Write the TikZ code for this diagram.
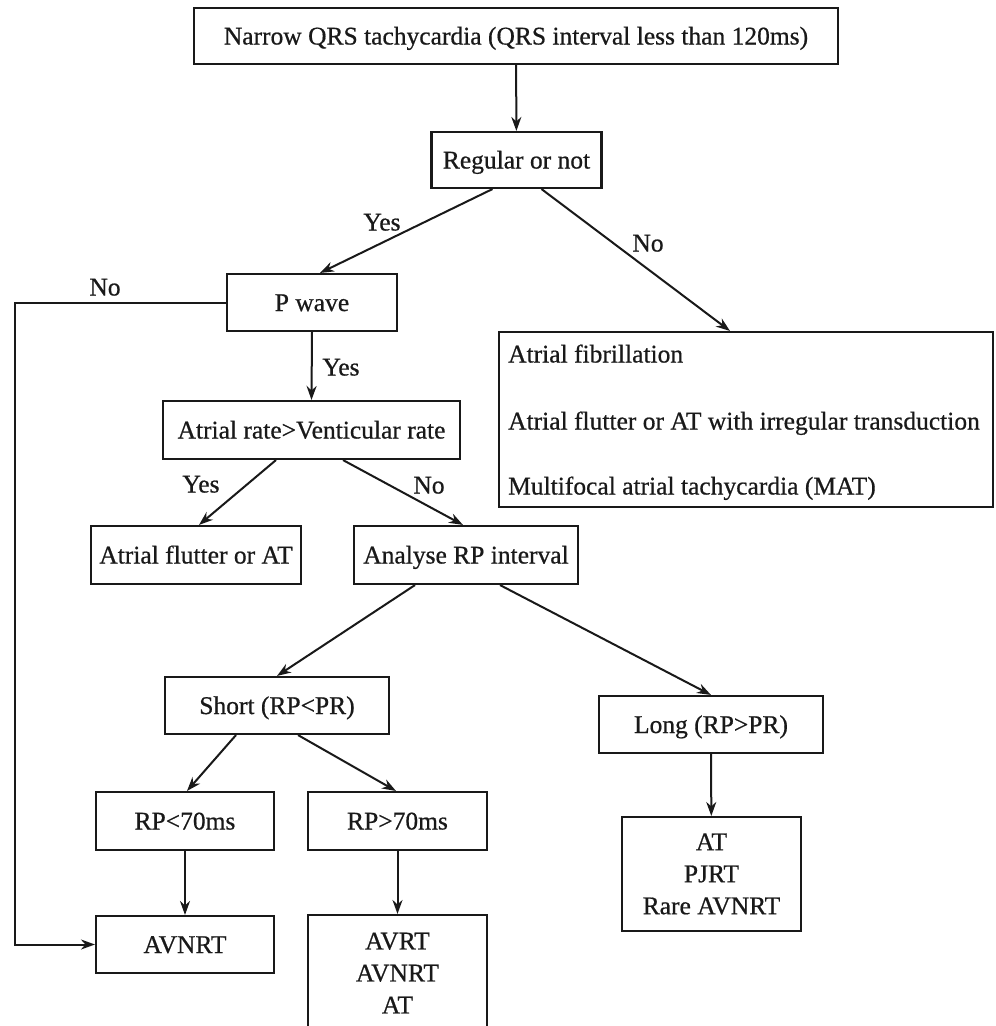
\documentclass[tikz,border=0pt]{standalone}
\usepackage{fontspec}
\setmainfont{Liberation Serif}[RawFeature={embolden=0.6}]
\usetikzlibrary{arrows.meta,calc}
\definecolor{ink}{RGB}{25,25,25}
\begin{document}
\begin{tikzpicture}[x=1pt,y=-1pt,
  box/.style={draw=ink, line width=2.1pt, rectangle, inner sep=0pt, font=\fontsize{25.5}{32}\selectfont, text=ink},
  one/.style={text height=17pt, text depth=0pt},
  arr/.style={draw=ink, line width=2pt, -{Stealth[length=14pt,width=10pt,inset=4.5pt]}},
  lbl/.style={font=\fontsize{25.5}{32}\selectfont, text=ink, inner sep=0pt, text height=17pt, text depth=0pt}]
\path[use as bounding box, clip] (0,0) rectangle (996,1026);
\fill[white] (0,0) rectangle (996,1026);

\node[box,one,minimum width=644pt,minimum height=56pt] (top) at (516,36) {Narrow QRS tachycardia (QRS interval less than 120ms)};
\node[box,one,minimum width=170pt,minimum height=56pt] (reg) at (516.5,160) {Regular or not};
\node[box,one,minimum width=170pt,minimum height=57pt] (pw) at (312,302.5) {P wave};
\node[box,one,minimum width=297pt,minimum height=58pt] (ar) at (311.5,430) {Atrial rate>Venticular rate};
\node[box,minimum width=494pt,minimum height=175pt] (afib) at (746,419.5) {};
\node[lbl,anchor=west] (af1) at (508,354) {Atrial fibrillation};
\node[lbl,anchor=west] (af2) at (508,421) {Atrial flutter or AT with irregular transduction};
\node[lbl,anchor=west] (af3) at (508,486) {Multifocal atrial tachycardia (MAT)};
\node[box,one,minimum width=210pt,minimum height=58pt] (afl) at (196,555) {Atrial flutter or AT};
\node[box,one,minimum width=224pt,minimum height=58pt] (arp) at (466,555) {Analyse RP interval};
\node[box,one,minimum width=224pt,minimum height=57pt] (short) at (277,705.5) {Short (RP<PR)};
\node[box,one,minimum width=224pt,minimum height=57pt] (long) at (711,724.5) {Long (RP>PR)};
\node[box,one,minimum width=178pt,minimum height=58pt] (rpa) at (185,821) {RP<70ms};
\node[box,one,minimum width=179pt,minimum height=58pt] (rpb) at (397.5,821) {RP>70ms};
\node[box,one,minimum width=178pt,minimum height=57pt] (avnrt) at (185,944.5) {AVNRT};
\node[box,align=center,minimum width=179pt,minimum height=116pt] (avrt) at (397.5,973) {AVRT\\AVNRT\\AT};
\node[box,align=center,minimum width=179pt,minimum height=114pt] (atb) at (711.5,874) {AT\\PJRT\\Rare AVNRT};
\coordinate (lx) at (15,302.5);

\draw[arr] (top) -- (reg);
\draw[arr] ([xshift=-24pt]reg.south) -- ([xshift=8pt]pw.north);
\draw[arr] ([xshift=25pt]reg.south) -- ([xshift=-16pt]afib.north);
\draw[arr] (pw.west) -- (lx) |- (avnrt.west);
\draw[arr] (pw.south) -- (ar.north);
\draw[arr] ([xshift=-35.5pt]ar.south) -- ([xshift=3pt]afl.north);
\draw[arr] ([xshift=31.5pt]ar.south) -- ([xshift=-3pt]arp.north);
\draw[arr] ([xshift=-51pt]arp.south) -- (short.north);
\draw[arr] ([xshift=34pt]arp.south) -- (long.north);
\draw[arr] ([xshift=-41pt]short.south) -- ([xshift=2pt]rpa.north);
\draw[arr] ([xshift=21pt]short.south) -- ([xshift=-1.5pt]rpb.north);
\draw[arr] (rpa) -- (avnrt);
\draw[arr] (rpb) -- (avrt);
\draw[arr] (long) -- (atb);

\node[lbl] (l1) at (382,222) {Yes};
\node[lbl] (l2) at (648,243) {No};
\node[lbl] (l3) at (105,287) {No};
\node[lbl] (l4) at (341,367) {Yes};
\node[lbl] (l5) at (201,484) {Yes};
\node[lbl] (l6) at (429,485) {No};
\end{tikzpicture}
\end{document}
